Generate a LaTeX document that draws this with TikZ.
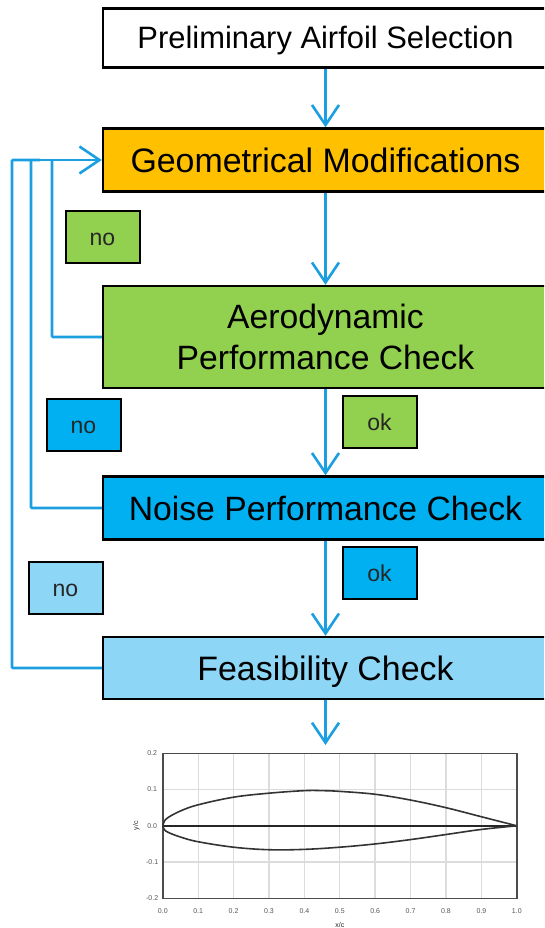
\documentclass[tikz,border=0pt]{standalone}
\usepackage{fontspec}
\setmainfont{Liberation Sans}
\usetikzlibrary{arrows.meta}
\definecolor{flowblue}{HTML}{1B9FE0}
\definecolor{boxorange}{HTML}{FFC000}
\definecolor{boxgreen}{HTML}{92D050}
\definecolor{boxblue}{HTML}{00B0F0}
\definecolor{boxlight}{HTML}{8DD6F6}
\definecolor{gridgray}{HTML}{DCDCDC}
\definecolor{tickgray}{HTML}{555555}

\begin{document}
\begin{tikzpicture}[
    x=1pt, y=-1pt,
    stage/.style={rectangle, draw=black, line width=2.4pt, minimum width=445pt, inner sep=0pt, align=center, text=black},
    tag/.style={rectangle, draw=black, line width=2pt, minimum width=74pt, minimum height=52pt, inner sep=0pt, text height=16pt, text depth=0pt, font=\fontsize{23}{28}\selectfont, text=black!85},
    flow/.style={draw=flowblue, line width=2.6pt, -{Straight Barb[length=20pt,width=27pt,line width=2.6pt]}},
    back/.style={draw=flowblue, line width=2.6pt, rounded corners=1pt},
    tick/.style={font=\fontsize{7}{8}\selectfont, text=tickgray, inner sep=0pt}
]
\clip (0,0) rectangle (544,928);

\node[stage, fill=white, minimum height=59pt, text height=22pt, text depth=0pt, font=\fontsize{30.9}{36}\selectfont] (prelim) at (325.5,38) {Preliminary Airfoil Selection};
\node[stage, fill=boxorange, minimum height=63pt, text height=24pt, text depth=0pt, font=\fontsize{33.9}{40}\selectfont] (geom) at (325.5,160) {Geometrical Modifications};
\node[stage, fill=boxgreen, minimum height=102pt, font=\fontsize{33.7}{41}\selectfont] (aero) at (325.5,337) {Aerodynamic\\Performance Check};
\node[stage, fill=boxblue, minimum height=63pt, text height=24pt, text depth=0pt, font=\fontsize{33.7}{40}\selectfont] (noise) at (325.5,508) {Noise Performance Check};
\node[stage, fill=boxlight, minimum height=62pt, text height=24pt, text depth=0pt, font=\fontsize{33.9}{40}\selectfont] (feas) at (325.5,668) {Feasibility Check};

\node[tag, fill=boxgreen] (no1) at (102.5,237) {no};
\node[tag, fill=boxgreen] (ok1) at (379.5,422) {ok};
\node[tag, fill=boxblue] (no2) at (83.5,425) {no};
\node[tag, fill=boxblue] (ok2) at (379.5,573) {ok};
\node[tag, fill=boxlight] (no3) at (65.5,588) {no};

\coordinate (plottop) at (325.5,745);
\draw[flow] (prelim) -- (geom);
\draw[flow] (geom) -- (aero);
\draw[flow] (aero) -- (noise);
\draw[flow] (noise) -- (feas);
\draw[flow] (feas) -- (plottop);

% return lines
\draw[back] (aero.west) -| (52,160);
\draw[back] (noise.west) -| (31,160);
\draw[back] (feas.west) -| (12,160) -- (40,160);
\draw[flow] (12,160) -- (geom.west);

% airfoil chart
\begin{scope}[shift={(162.8,825.8)}, x=354pt, y=362.5pt]
\foreach \i in {0.1,0.2,...,0.95} \draw[gridgray, line width=1.4pt] (\i,-0.2) -- (\i,0.2);
\foreach \j in {-0.1,0.1} \draw[gridgray, line width=1.4pt] (0,\j) -- (1,\j);
\draw[black!70, line width=1.4pt] (0,-0.2) rectangle (1,0.2);
\draw[black!85, line width=1.7pt] (0,0) -- (1,0);
\draw[black!80, line width=1.6pt] plot[smooth, tension=0.6] coordinates {(0,0) (0.004,0.012) (0.015,0.023) (0.05,0.041) (0.1,0.058) (0.2,0.079) (0.3,0.090) (0.4,0.097) (0.45,0.097) (0.5,0.095) (0.6,0.087) (0.7,0.071) (0.8,0.050) (0.9,0.025) (1,0)};
\draw[black!80, line width=1.6pt] plot[smooth, tension=0.6] coordinates {(0,0) (0.004,-0.010) (0.015,-0.018) (0.05,-0.031) (0.1,-0.044) (0.2,-0.059) (0.3,-0.066) (0.4,-0.065) (0.5,-0.059) (0.6,-0.050) (0.7,-0.038) (0.8,-0.024) (0.9,-0.010) (1,0)};
\foreach \i in {0.0,0.1,0.2,0.3,0.4,0.5,0.6,0.7,0.8,0.9,1.0} \node[tick] at (\i,-0.235) {\i};
\foreach \j in {-0.2,-0.1,0.0,0.1,0.2} \node[tick] at (-0.03,\j) {\j};
\node[tick, rotate=90, text=black!85] (ylabel) at (-0.075,0) {y/c};
\node[tick, text=black!85] (xlabel) at (0.5,-0.275) {x/c};
\end{scope}
\end{tikzpicture}
\end{document}
